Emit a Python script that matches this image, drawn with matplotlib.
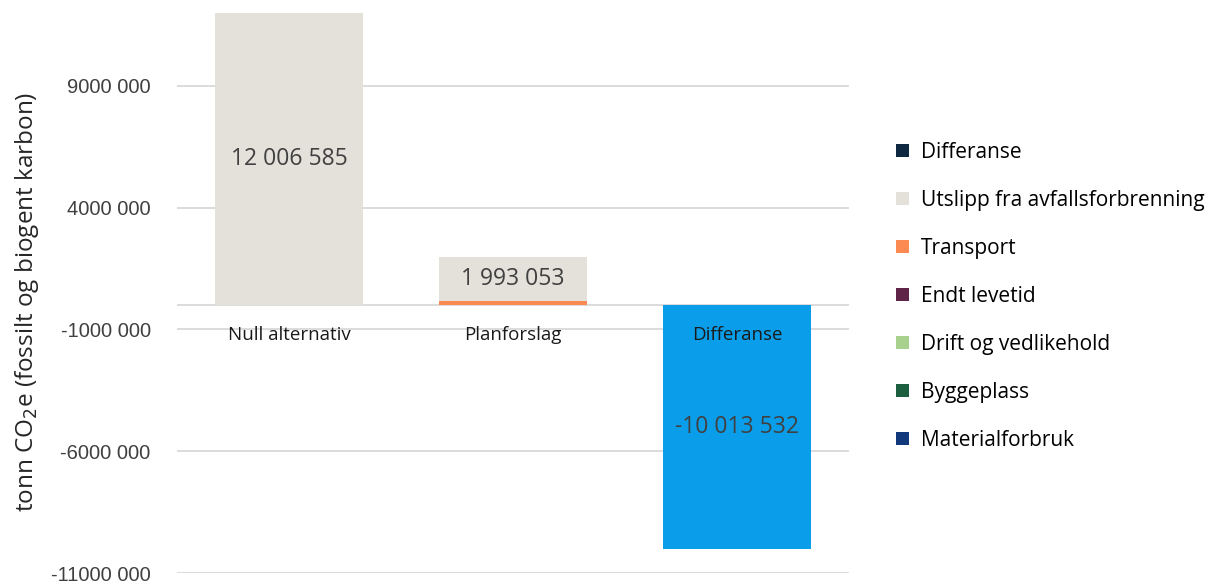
import matplotlib.pyplot as plt
from matplotlib.patches import Patch
from matplotlib.ticker import FixedLocator

# categories and stacked series (tonn CO2e)
categories = ['Null alternativ', 'Planforslag', 'Differanse']
materialforbruk = [0, 0, 0]
byggeplass = [0, 0, 0]
drift = [0, 0, 0]
endt_levetid = [0, 0, 0]
transport = [0, 150000, 0]
utslipp = [12006585, 1843053, 0]
differanse = [0, 0, -10013532]

value_labels = ['12 006 585', '1 993 053', '-10 013 532']
y_ticks = [9000000, 4000000, -1000000, -6000000, -11000000]
y_tick_labels = ['9000 000', '4000 000', '-1000 000', '-6000 000', '-11000 000']

series = [
    ('Materialforbruk', materialforbruk, '#10387a'),
    ('Byggeplass', byggeplass, '#1b5e40'),
    ('Drift og vedlikehold', drift, '#a9d18e'),
    ('Endt levetid', endt_levetid, '#5f2448'),
    ('Transport', transport, '#fb8a52'),
    ('Utslipp fra avfallsforbrenning', utslipp, '#e3e1da'),
    ('Differanse', differanse, '#0e2841'),
]
diff_bar_color = '#0a9eea'

plt.rcParams['font.family'] = ['Open Sans', 'DejaVu Sans']

fig = plt.figure(figsize=(12.2, 5.85), dpi=100)
ax = fig.add_axes([0.1451, 0.0205, 0.5508, 0.9795])

x = list(range(len(categories)))
width = 0.66
pos_base = [0.0] * len(x)
neg_base = [0.0] * len(x)
for name, vals, color in series:
    for i, v in enumerate(vals):
        if v == 0:
            continue
        c = diff_bar_color if name == 'Differanse' else color
        if v >= 0:
            ax.bar(x[i], v, width, bottom=pos_base[i], color=c, zorder=3)
            pos_base[i] += v
        else:
            ax.bar(x[i], v, width, bottom=neg_base[i], color=c, zorder=3)
            neg_base[i] += v

# value labels in the middle of the main segment
centers = [utslipp[0] / 2,
           transport[1] + utslipp[1] / 2,
           differanse[2] / 2]
for i, lab in enumerate(value_labels):
    ax.text(x[i], centers[i], lab, ha='center', va='center',
            fontsize=16.5, color='#404040', zorder=4)

# category labels just under the zero line
for i, cat in enumerate(categories):
    ax.annotate(cat, (x[i], 0), xytext=(0, -21.5), textcoords='offset points',
                ha='center', va='center', fontsize=13.5, color='#1a1a1a', zorder=4)

ax.set_xlim(-0.5, 2.5)
ax.set_ylim(-11000000, 12530000)
ax.yaxis.set_major_locator(FixedLocator(y_ticks))
ax.set_yticklabels(y_tick_labels, fontsize=14.5, color='#404040',
                   family=['Liberation Sans', 'DejaVu Sans'])
ax.set_xticks([])
ax.tick_params(axis='y', length=0, pad=19)
ax.grid(axis='y', color='#d9d9d9', linewidth=1.3, zorder=0)
ax.axhline(0, color='#d9d9d9', linewidth=1.3, zorder=1)
for s in ax.spines.values():
    s.set_visible(False)

fig.text(0.022, 0.484, 'tonn CO$_2$e (fossilt og biogent karbon)', rotation=90,
         ha='center', va='center', fontsize=17.5, color='#262626')

handles = [Patch(facecolor=c, edgecolor='none', label=n) for n, _, c in reversed(series)]
fig.legend(handles=handles, loc='upper left', bbox_to_anchor=(0.7278, 0.772),
           frameon=False, fontsize=15, handlelength=0.6, handleheight=0.6,
           handletextpad=0.6, labelspacing=1.3, borderaxespad=0)

fig.savefig('out.png', dpi=100)
